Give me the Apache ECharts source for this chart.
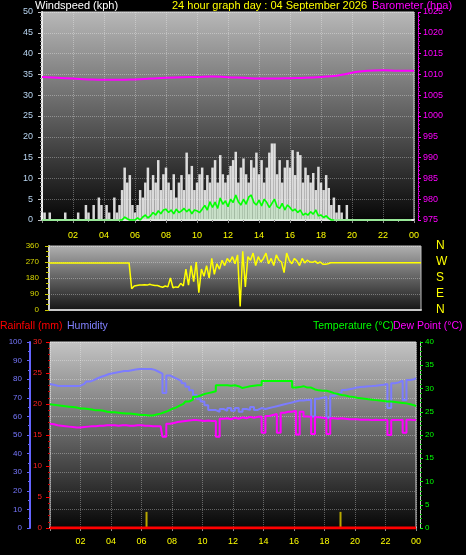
<!DOCTYPE html>
<html><head><meta charset="utf-8">
<script src="https://cdn.jsdelivr.net/npm/echarts@6/dist/echarts.min.js"></script>
<style>html,body{margin:0;padding:0;background:#000;}#c{width:466px;height:555px;}</style>
</head><body><div id="c"></div>
<script>
// ---- data ----
const xTickLabels = ['', '02', '04', '06', '08', '10', '12', '14', '16', '18', '20', '22', '00'];
const dirLetters = { 0: 'N', 90: 'E', 180: 'S', 270: 'W', 360: 'N' };

// wind gust (kph), every 10 minutes from 00:00
const windGust = [
  1.8,1.8,0,1.8,0,0,
  0,0,0,1.8,0,0,
  0,0,1.8,0,0,3.6,
  1.8,0,3.6,0,5.4,3.6,
  0,3.6,1.8,0,5.4,1.8,
  3.6,7.2,12.6,9,10.8,3.6,
  1.8,3.6,7.2,5.4,9,12.6,
  7.2,10.8,9,14.4,7.2,11,
  12.6,9,7.2,11,5.4,9,
  10.8,7.2,16.2,11,13,7.2,
  9,11,12.6,7.2,10.8,9,
  12.6,14.4,9,15.6,11,9,
  10.8,13,14.4,16.4,9,12.6,
  14.8,11,9,14.4,12.6,16.2,
  11,14.4,9,12.6,16.2,18.4,
  18.4,11,14.4,9,12.6,14.4,
  12.6,16.8,10.8,16.4,15.6,9,
  12.6,10.8,9,11.3,7.2,12.8,
  9,7.2,10.8,7.7,3.6,5.4,
  1.8,3.6,1.8,0,3.6,0,
  0,0,0,0,0,0,
  0,0,0,0,0,0,
  0,0,0,0,0,0,
  0,0,0,0,0,0
];
// average wind (kph), every 10 minutes from 05:00 to 18:50
const windAvgStartHour = 5;
const windAvg = [
  0,0,0.7,0.3,0,0,
  0,0.5,0,0.7,1.2,0.5,
  1,1.8,1.2,2.2,1.5,2.4,
  2.6,1.8,2.4,1.5,2.6,1.8,
  2.2,2.8,2,2.6,1.5,2.4,
  2.2,1.8,2.6,3.5,2.4,4.4,
  3,4.3,2.8,5.3,3.8,4.6,
  3.2,5,4.2,6,4.4,3.6,
  5,3.8,5.5,6,4.2,3.6,
  4.8,3.4,5,4.2,3,4,
  5,3.2,2.8,4,2.4,3.6,
  3,2.2,2.6,1.8,2.4,1.2,
  1.6,1.2,2,1.4,2.4,1,
  1.2,0.6,1,0.4,0,0
];
// barometer (hPa), hourly
const pressure = [1009.4,1009.2,1009.0,1008.8,1008.7,1008.7,1008.8,1009.0,1009.2,1009.3,1009.4,1009.5,1009.3,1009.2,1009.0,1009.0,1009.1,1009.2,1009.4,1009.7,1010.4,1010.9,1011.0,1010.9,1010.9];
// wind direction (deg), every 10 minutes
const windDir = [
  265,265,265,265,265,265,
  265,265,265,265,265,265,
  265,265,265,265,265,265,
  265,265,265,265,265,265,
  265,265,265,265,265,265,
  265,265,120,135,138,140,
  140,142,140,145,140,138,
  138,132,128,135,130,180,
  125,130,128,150,135,230,
  140,250,160,270,97,230,
  190,250,180,290,200,260,
  230,280,250,290,270,300,
  260,310,20,330,130,300,
  280,320,250,300,270,290,
  320,260,290,250,310,280,
  270,210,320,280,260,290,
  275,250,290,265,280,270,
  268,275,262,270,258,258,
  260,266,266,266,266,266,
  266,266,266,266,266,266,
  266,266,266,266,266,266,
  266,266,266,266,266,266,
  266,266,266,266,266,266,
  266,266,266,266,266,266,
  266
];
// every 15 minutes
const temperature = [
  26.6,26.5,26.4,26.3, 26.2,26.1,26.0,25.9, 25.7,25.7,25.6,25.5, 25.3,25.3,25.2,25.0,
  24.9,24.9,24.8,24.7, 24.6,24.6,24.5,24.4, 24.3,24.3,24.2,24.2, 24.4,24.6,24.9,25.2,
  25.6,25.9,26.3,26.7, 27.2,27.6,28.2,28.5, 28.8,29.0,29.2,29.4, 30.7,30.7,30.7,30.6,
  30.7,30.5,30.1,30.3, 30.5,30.6,30.7,30.7, 31.6,31.6,31.6,31.6, 31.6,31.6,31.6,31.6,
  30.2,30.3,30.5,30.2, 30.2,29.8,29.6,29.5, 29.5,29.3,29.0,28.8, 28.6,28.5,28.3,28.2,
  28.0,27.9,27.8,27.7, 27.6,27.5,27.4,27.3, 27.2,27.2,27.1,27.0, 26.9,26.8,26.6,26.4,
  26.2
];
const humidity = [
  77.4,77,76.5,76.3, 76.3,76.3,76.3,76.3, 76.5,77.5,78.7,79.5, 80.5,81.3,82,82.8,
  83.2,83.6,84,84.4, 84.4,84.8,85.2,85.5, 85.5,85.5,85.5,85, 84,83,72.6,82,
  81,80,79,77.8, 76,74,71.5,69.5, 68,66,63.4,63.4, 62.5,64,63,64.5,
  63,64.5,62.5,64, 63.5,65,63.5,64.5, 64,64.5,65,65.5, 66,66.5,67,67.5,
  68,68.5,68.5,68.8, 69,60,69.5,70, 70.4,59.3,71.1,72, 73,74.2,74.6,75,
  75.6,75.8,76,76.2, 76.3,76.5,76.8,77, 77.4,64.5,77.8,78.3, 79.2,68.8,79.6,80,
  80.5
];
const dewPoint = [
  22.4,22.3,22.1,22.0, 21.9,21.8,21.7,21.6, 21.6,21.7,21.8,21.9, 21.9,22.0,22.0,22.1,
  22.1,22.1,22.0,22.1, 22.1,22.0,22.0,22.1, 22.1,22.0,22.0,21.9, 21.9,21.9,19.6,22.4,
  22.6,22.8,22.9,23.0, 23.1,23.2,23.2,23.1, 23.0,23.1,23.0,23.0, 19.6,23.5,23.6,23.4,
  23.7,23.5,23.8,23.6, 23.9,23.7,23.9,24.0, 20.5,24.1,24.3,24.5, 20.5,24.8,25.0,25.0,
  25.2,20.1,25.0,24.0, 23.9,20.2,23.8,23.7, 23.6,20.2,23.6,23.5, 23.6,23.5,23.4,23.4,
  23.4,23.3,23.3,23.3, 23.2,23.3,23.2,23.2, 23.2,20.0,23.2,23.2, 23.3,20.5,23.3,23.2,
  23.2
];
// rainfall (mm), hourly
const rainfall = [0,0,0,0,0,0,0,0,0,0,0,0,0,0,0,0,0,0,0,0,0,0,0,0,0];
// sunrise / sunset markers (hour, height on rainfall scale)
const sunMarkHours = [6.33, 19.05];
const sunMarkValue = 2.6;

// ---- build ----
const FONT = 'Liberation Sans, Arial, sans-serif';
const ser = (arr, perHour, start) => arr.map((v, i) => [(start || 0) + i / perHour, v]);
const windAvgFull = windGust.map((_, i) => {
  const h = i / 6;
  const k = Math.round((h - windAvgStartHour) * 6);
  return [h, (k >= 0 && k < windAvg.length) ? windAvg[k] : 0];
});
const grad = (a, b) => ({ type: 'linear', x: 0, y: 0, x2: 0, y2: 1, colorStops: [{ offset: 0, color: a }, { offset: 1, color: b }] });
const dotted = { show: true, lineStyle: { type: 'dotted', color: 'rgba(255,255,255,0.32)', width: 1 } };
const hourFmt = v => xTickLabels[v / 2];
const plain = v => String(v);

const chart = echarts.init(document.getElementById('c'), null, { renderer: 'canvas' });
chart.setOption({
  backgroundColor: '#000',
  animation: false,
  title: [
    { text: 'Windspeed (kph)', left: 35, top: 0, padding: 0, textStyle: { color: '#ffffff', fontSize: 11, fontWeight: 'normal', fontFamily: FONT } },
    { text: '24 hour graph day : 04 September 2026', left: 172, top: 0, padding: 0, textStyle: { color: '#ffff00', fontSize: 11, fontWeight: 'normal', fontFamily: FONT } },
    { text: 'Barometer (hpa)', left: 372, top: 0, padding: 0, textStyle: { color: '#ff00ff', fontSize: 11, fontWeight: 'normal', fontFamily: FONT } },
    { text: 'Rainfall (mm)', left: 0, top: 321, padding: 0, textStyle: { color: '#ff0000', fontSize: 10.5, fontWeight: 'normal', fontFamily: FONT } },
    { text: 'Humidity', left: 67, top: 321, padding: 0, textStyle: { color: '#8080ff', fontSize: 10.5, fontWeight: 'normal', fontFamily: FONT } },
    { text: 'Temperature (°C)', left: 313, top: 321, padding: 0, textStyle: { color: '#00ff00', fontSize: 10.5, fontWeight: 'normal', fontFamily: FONT } },
    { text: 'Dew Point (°C)', left: 393, top: 321, padding: 0, textStyle: { color: '#ff00ff', fontSize: 10.5, fontWeight: 'normal', fontFamily: FONT } }
  ],
  grid: [
    { left: 42, top: 12, width: 372, height: 208, show: true, backgroundColor: grad('#b8b8b8', '#060606'), borderColor: '#d0d0d0', borderWidth: 1 },
    { left: 49, top: 246, width: 372, height: 64, show: true, backgroundColor: grad('#b0b0b0', '#151515'), borderColor: '#c0c0c0', borderWidth: 1 },
    { left: 50, top: 342, width: 366, height: 186, show: true, backgroundColor: grad('#c4c4c4', '#060606'), borderColor: '#d0d0d0', borderWidth: 1 }
  ],
  xAxis: [
    { gridIndex: 0, type: 'value', min: 0, max: 24, interval: 2,
      axisLine: { show: true, onZero: false, lineStyle: { color: '#e8e8e8', width: 2 } },
      axisTick: { show: true, length: 3, lineStyle: { color: '#909090' } },
      minorTick: { show: true, splitNumber: 2, length: 2, lineStyle: { color: '#909090' } },
      axisLabel: { color: '#ffff00', fontSize: 9, fontFamily: FONT, margin: 11, formatter: hourFmt },
      splitLine: dotted },
    { gridIndex: 1, type: 'value', min: 0, max: 24, interval: 2,
      axisLine: { show: true, onZero: false, lineStyle: { color: '#c8c8c8', width: 2 } },
      axisTick: { show: false }, axisLabel: { show: false }, splitLine: { show: false } },
    { gridIndex: 2, type: 'value', min: 0, max: 24, interval: 2,
      axisLine: { show: true, onZero: false, lineStyle: { color: '#d8d8d8', width: 2 } },
      axisTick: { show: true, length: 3, lineStyle: { color: '#909090' } },
      axisLabel: { color: '#ffff00', fontSize: 9, fontFamily: FONT, margin: 9, formatter: hourFmt },
      splitLine: dotted }
  ],
  yAxis: [
    { gridIndex: 0, type: 'value', min: 0, max: 50, interval: 5, position: 'left',
      axisLine: { show: true, onZero: false, lineStyle: { color: '#f0f0f0', width: 2 } },
      axisTick: { show: true, length: 4, lineStyle: { color: '#c0c0c0' } },
      minorTick: { show: true, splitNumber: 5, length: 2, lineStyle: { color: '#a0a0a0' } },
      axisLabel: { color: '#b8d4f0', fontSize: 9, fontFamily: FONT, margin: 9, formatter: plain },
      splitLine: dotted },
    { gridIndex: 0, type: 'value', min: 975, max: 1025, interval: 5, position: 'right', offset: 4,
      axisLine: { show: true, onZero: false, lineStyle: { color: '#ff00ff', width: 1, type: 'dotted' } },
      axisTick: { show: true, length: 3, lineStyle: { color: '#ff00ff' } },
      minorTick: { show: true, splitNumber: 5, length: 2, lineStyle: { color: '#c000c0' } },
      axisLabel: { color: '#ff00ff', fontSize: 9, fontFamily: FONT, margin: 5, formatter: plain },
      splitLine: { show: false } },
    { gridIndex: 1, type: 'value', min: 0, max: 360, interval: 90, position: 'left',
      axisLine: { show: true, onZero: false, lineStyle: { color: '#d0d0d0', width: 2 } },
      axisTick: { show: true, length: 4, lineStyle: { color: '#c8c800' } },
      minorTick: { show: true, splitNumber: 3, length: 3, lineStyle: { color: '#c8c800' } },
      axisLabel: { color: '#d8d800', fontSize: 8, fontFamily: FONT, margin: 10, formatter: plain },
      splitLine: dotted },
    { gridIndex: 1, type: 'value', min: 0, max: 360, interval: 90, position: 'right',
      axisLine: { show: false }, axisTick: { show: false }, splitLine: { show: false },
      axisLabel: { color: '#ffff00', fontSize: 12, fontFamily: FONT, margin: 15, formatter: v => dirLetters[v] } },
    { gridIndex: 2, type: 'value', min: 0, max: 100, interval: 10, position: 'left', offset: 20,
      axisLine: { show: true, onZero: false, lineStyle: { color: '#6464ff', width: 2 } },
      axisTick: { show: true, length: 3, lineStyle: { color: '#6464ff' } },
      minorTick: { show: true, splitNumber: 2, length: 2, lineStyle: { color: '#6464ff' } },
      axisLabel: { color: '#7878ff', fontSize: 8, fontFamily: FONT, margin: 8, formatter: plain },
      splitLine: dotted },
    { gridIndex: 2, type: 'value', min: 0, max: 30, interval: 5, position: 'left', offset: 0,
      axisLine: { show: false },
      axisTick: { show: true, length: 4, lineStyle: { color: '#ff0000' } },
      minorTick: { show: true, splitNumber: 5, length: 2, lineStyle: { color: '#d00000' } },
      axisLabel: { color: '#ff2020', fontSize: 8, fontFamily: FONT, margin: 8, formatter: plain },
      splitLine: { show: false } },
    { gridIndex: 2, type: 'value', min: 0, max: 40, interval: 5, position: 'right', offset: 4,
      axisLine: { show: true, onZero: false, lineStyle: { color: '#c8c8c8', width: 1 } },
      axisTick: { show: true, length: 3, lineStyle: { color: '#00ff00' } },
      minorTick: { show: true, splitNumber: 5, length: 2, lineStyle: { color: '#00c000' } },
      axisLabel: { color: '#00ff00', fontSize: 8, fontFamily: FONT, margin: 5, formatter: plain },
      splitLine: { show: false } }
  ],
  series: [
    { name: 'Gust', type: 'bar', xAxisIndex: 0, yAxisIndex: 0, data: ser(windGust, 6), barWidth: 2.5,
      itemStyle: { color: 'rgba(245,245,245,0.88)' }, z: 2 },
    { name: 'AvgArea', type: 'line', xAxisIndex: 0, yAxisIndex: 0, data: windAvgFull, showSymbol: false,
      lineStyle: { color: '#98e898', width: 2 }, areaStyle: { color: 'rgba(170,235,170,0.5)' }, z: 3 },
    { name: 'Average', type: 'line', xAxisIndex: 0, yAxisIndex: 0, data: ser(windAvg, 6, windAvgStartHour), showSymbol: false,
      lineStyle: { color: '#00ff00', width: 1.5 }, z: 4 },
    { name: 'Barometer', type: 'line', xAxisIndex: 0, yAxisIndex: 1, data: ser(pressure, 1), showSymbol: false, smooth: true,
      lineStyle: { color: '#ff00ff', width: 2 }, z: 5 },
    { name: 'Direction', type: 'line', xAxisIndex: 1, yAxisIndex: 2, data: ser(windDir, 6), showSymbol: false,
      lineStyle: { color: '#ffff00', width: 1.5 } },
    { name: 'Rainfall', type: 'line', xAxisIndex: 2, yAxisIndex: 5, data: ser(rainfall, 1), showSymbol: false,
      lineStyle: { color: '#ff0000', width: 3 }, z: 6 },
    { name: 'Sun', type: 'bar', xAxisIndex: 2, yAxisIndex: 5, data: sunMarkHours.map(h => [h, sunMarkValue]), barWidth: 2,
      itemStyle: { color: '#b8a800' }, z: 5 },
    { name: 'Humidity', type: 'line', xAxisIndex: 2, yAxisIndex: 4, data: ser(humidity, 4), showSymbol: false, step: 'middle',
      lineStyle: { color: '#7c7cff', width: 2 } },
    { name: 'Temperature', type: 'line', xAxisIndex: 2, yAxisIndex: 6, data: ser(temperature, 4), showSymbol: false, step: 'middle',
      lineStyle: { color: '#00ff00', width: 2 } },
    { name: 'Dew Point', type: 'line', xAxisIndex: 2, yAxisIndex: 6, data: ser(dewPoint, 4), showSymbol: false, step: 'middle',
      lineStyle: { color: '#ff00ff', width: 2 } }
  ]
});
</script>
</body></html>
